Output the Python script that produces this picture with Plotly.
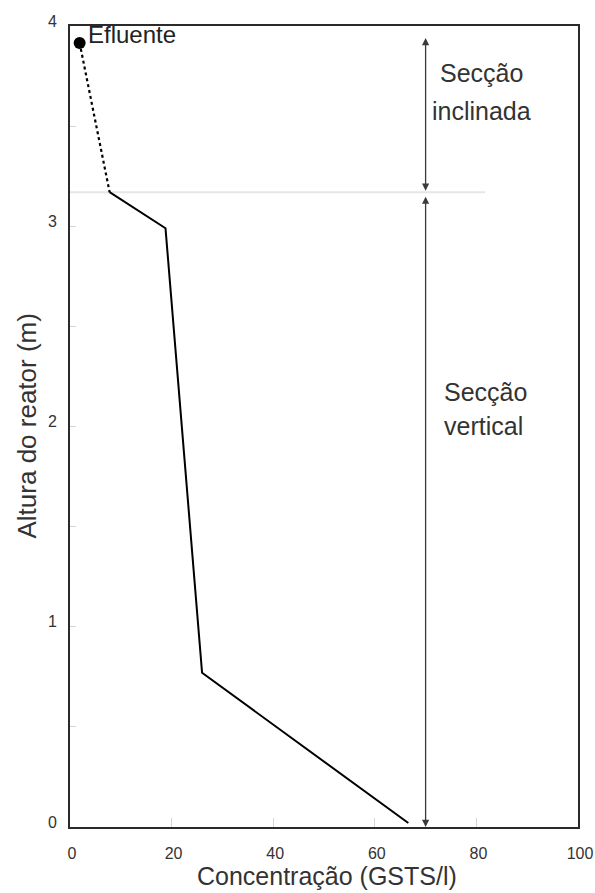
import plotly.graph_objects as go

# Data
conc_solid = [7.8, 18.8, 26.0, 66.6]
alt_solid = [3.17, 2.99, 0.77, 0.02]
conc_dotted = [1.9, 7.8]
alt_dotted = [3.915, 3.17]
eff_conc = [1.9]
eff_alt = [3.915]
eff_label = "Efluente"
section_boundary = 3.17
section_line_end = 81.7
arrow_x = 70
arrow_top = 3.94
x_ticks = [0, 20, 40, 60, 80, 100]
x_tick_labels = ["0", "20", "40", "60", "80", "100"]
y_ticks = [0, 1, 2, 3, 4]
y_tick_labels = ["0", "1", "2", "3", "4"]

FONT = "Liberation Sans, Arial, sans-serif"
TXT = "#333333"

fig = go.Figure()

fig.add_trace(go.Scatter(x=[0, section_line_end], y=[section_boundary, section_boundary],
                         mode="lines", line=dict(color="#e6e6e6", width=2),
                         hoverinfo="skip", showlegend=False))
fig.add_trace(go.Scatter(x=conc_dotted, y=alt_dotted, mode="lines",
                         line=dict(color="black", width=2.2, dash="dot"), showlegend=False))
fig.add_trace(go.Scatter(x=conc_solid, y=alt_solid, mode="lines",
                         line=dict(color="black", width=2), showlegend=False))
fig.add_trace(go.Scatter(x=eff_conc, y=eff_alt, mode="markers",
                         marker=dict(color="black", size=12), showlegend=False))

ann = []
ann.append(dict(x=eff_conc[0], y=eff_alt[0], xref="x", yref="y", text=eff_label,
                showarrow=False, xanchor="left", yanchor="middle", xshift=6, yshift=9,
                font=dict(family=FONT, size=24, color="#222")))
# double arrows
for y0, y1 in [(section_boundary, arrow_top), (section_boundary - 0.015, 0)]:
    ann.append(dict(x=arrow_x, y=y1, ax=arrow_x, ay=y0, xref="x", yref="y", axref="x", ayref="y",
                    text="", showarrow=True, arrowhead=2, arrowside="end+start",
                    arrowsize=1.1, arrowwidth=1.3, arrowcolor="#3a3a3a"))
sec_font = dict(family=FONT, size=25, color=TXT)
ann.append(dict(x=81.0, y=3.765, xref="x", yref="y", text="Secção", showarrow=False,
                xanchor="center", yanchor="middle", font=sec_font))
ann.append(dict(x=81.0, y=3.575, xref="x", yref="y", text="inclinada", showarrow=False,
                xanchor="center", yanchor="middle", font=sec_font))
ann.append(dict(x=73.2, y=2.17, xref="x", yref="y", text="Secção", showarrow=False,
                xanchor="left", yanchor="middle", font=sec_font))
ann.append(dict(x=73.2, y=2.005, xref="x", yref="y", text="vertical", showarrow=False,
                xanchor="left", yanchor="middle", font=sec_font))
# axis titles
ann.append(dict(x=0.505, y=0, xref="paper", yref="paper", yshift=-65, yanchor="bottom",
                text="Concentração (GSTS/l)", showarrow=False,
                font=dict(family=FONT, size=25, color=TXT)))
ann.append(dict(x=0, y=0.5, xref="paper", yref="paper", xshift=-44, text="Altura do reator (m)",
                showarrow=False, textangle=-90, xanchor="center", yanchor="middle",
                font=dict(family=FONT, size=26, color=TXT)))

fig.update_layout(
    width=595, height=893,
    margin=dict(l=70, r=17, t=26, b=66, autoexpand=False),
    plot_bgcolor="white", paper_bgcolor="white",
    annotations=ann,
    showlegend=False,
    font=dict(family=FONT, color=TXT),
)
fig.update_xaxes(range=[0, 100], tickvals=x_ticks, ticktext=x_tick_labels,
                 showgrid=False, zeroline=False, automargin=False,
                 showline=True, linecolor="#2a2a2a", linewidth=2, mirror=True,
                 ticks="inside", ticklen=9, tickcolor="#d4d4d4", tickwidth=1,
                 tickfont=dict(family=FONT, size=16, color=TXT), ticklabelstandoff=11,
                 ticklabelshift=2)
fig.update_yaxes(range=[0, 4], tickvals=y_ticks, ticktext=y_tick_labels,
                 showgrid=False, zeroline=False, automargin=False,
                 showline=True, linecolor="#2a2a2a", linewidth=2, mirror=True,
                 ticks="inside", ticklen=6, tickcolor="#d4d4d4", tickwidth=1,
                 minor=dict(dtick=0.5, ticks="inside", ticklen=6, tickcolor="#d4d4d4"),
                 tickfont=dict(family=FONT, size=16, color=TXT), ticklabelstandoff=8,
                 ticklabelshift=-5)

fig.write_html("out.html", post_script="document.body.style.margin='0';",
               config={"displayModeBar": False})
